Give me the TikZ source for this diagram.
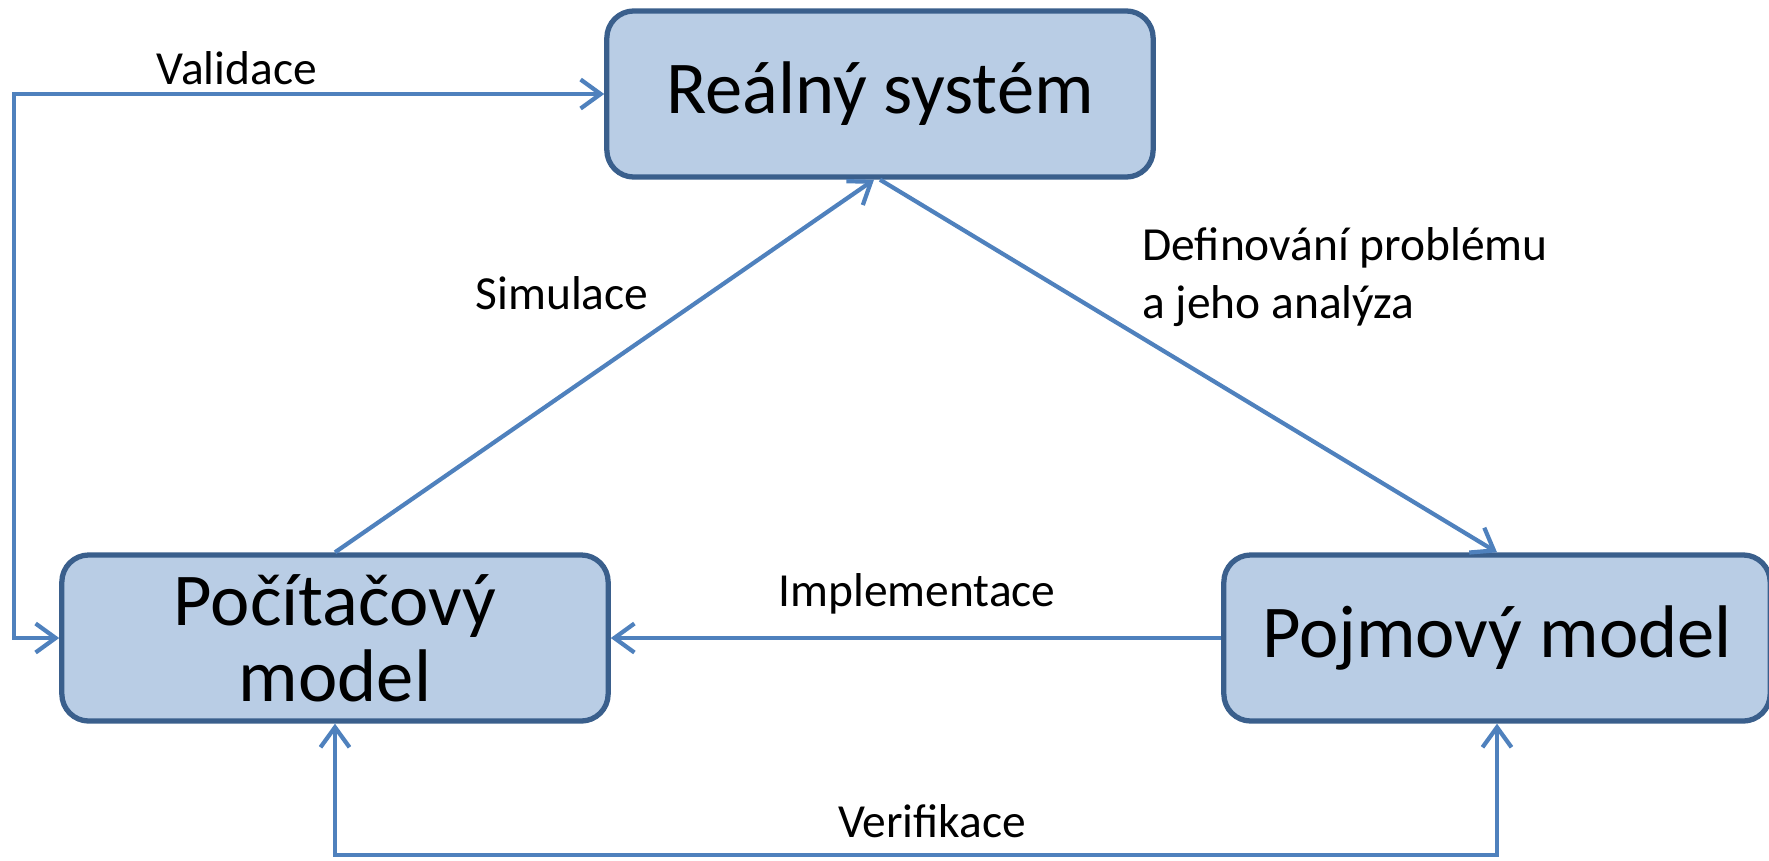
\documentclass[tikz,border=0pt]{standalone}
\usepackage{fontspec}
\setmainfont{Carlito}
\usepackage{tikz}
\usetikzlibrary{arrows.meta}

\definecolor{boxfill}{HTML}{B9CDE5}
\definecolor{boxline}{HTML}{3A5F8C}
\definecolor{arrowblue}{HTML}{4F81BD}

\tikzset{
    stage/.style={draw=boxline, line width=1.5pt, fill=boxfill, rounded corners=0.27cm,
        minimum width=5.46cm, minimum height=1.66cm, inner sep=0pt, align=center,
        font=\fontsize{21.2}{21.5}\selectfont},
    flow/.style={draw=arrowblue, line width=1.2pt},
    lbl/.style={font=\fontsize{13.5}{16.7}\selectfont},
    >={Straight Barb[length=2mm, width=2.9mm]}
}

\begin{document}
\begin{tikzpicture}[x=0.01cm, y=-0.01cm]
    \useasboundingbox (0,0) rectangle (1769,860);

    \node[stage] (real) at (880,94) {Reálný systém};
    \node[stage] (pocit) at (335,638) {Počítačový\\model};
    \node[stage] (pojm) at (1497,638) {Pojmový model};

    \coordinate (vleft) at (14,638);
    \coordinate (vbase) at (0,855);

    \draw[flow, <->] (real.west) -| (vleft) -- (pocit.west);
    \draw[flow, ->] (pocit.north) -- ([xshift=-0.06cm]real.south);
    \draw[flow, ->] (real.south) -- (pojm.north);
    \draw[flow, ->] (pojm.west) -- (pocit.east);
    \draw[flow, <->] (pocit.south) -- (pocit.south |- vbase) -| (pojm.south);

    \node[lbl] (validace) at (237,68) {Validace};
    \node[lbl] (simulace) at (562,293) {Simulace};
    \node[lbl, align=left, anchor=west] (definovani) at (1130,277) {Definování problému\\a jeho analýza};
    \node[lbl] (implementace) at (917,594) {Implementace};
    \node[lbl] (verifikace) at (932,821) {Verifikace};
\end{tikzpicture}
\end{document}
